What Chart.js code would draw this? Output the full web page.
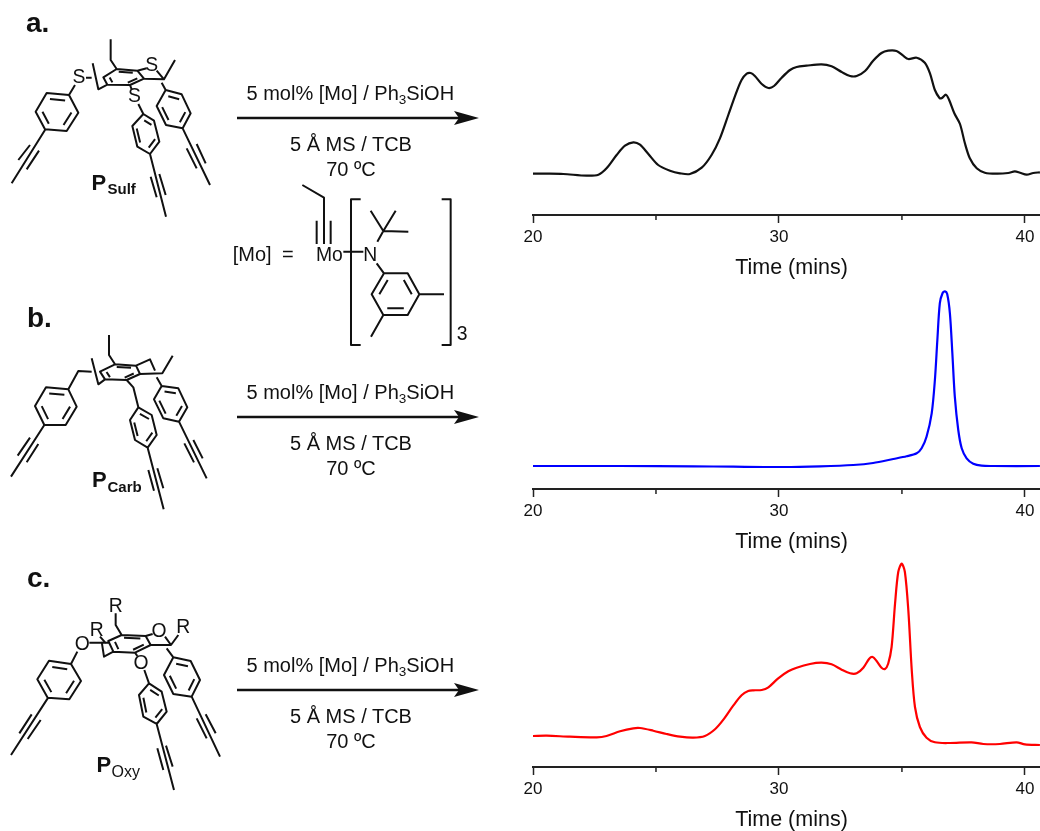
<!DOCTYPE html>
<html>
<head>
<meta charset="utf-8">
<title>GPC traces</title>
<script src="https://cdn.jsdelivr.net/npm/chart.js@4"></script>
<style>
  html, body { margin: 0; padding: 0; background: #fff; }
  body { position: relative; width: 1040px; height: 831px; overflow: hidden; font-family: "Liberation Sans", Arial, sans-serif; }
  canvas { position: absolute; left: 500px; }
  svg { position: absolute; left: 0; top: 0; }
  svg text { font-family: "Liberation Sans", Arial, sans-serif; fill: #111; }
</style>
</head>
<body>
<canvas id="chartSulf" width="550" height="239" style="top:40px"></canvas>
<canvas id="chartCarb" width="550" height="268" style="top:285px"></canvas>
<canvas id="chartOxy" width="550" height="275" style="top:556px"></canvas>
<svg id="scheme" width="1040" height="831" xmlns="http://www.w3.org/2000/svg"></svg>

<script>
// === 1. Data ===
const tickValues = [20, 25, 30, 35, 40];
const tickLabels = ["20", "", "30", "", "40"];
const axisTitle = "Time (mins)";

const sulfTimes = [20.00, 20.56, 21.23, 22.18, 22.66, 22.99, 23.40, 23.74, 24.08, 24.35, 24.69, 25.09, 25.57, 25.98, 26.38, 26.86, 27.26, 27.60, 27.94, 28.28, 28.48, 28.69, 28.85, 29.02, 29.30, 29.57, 29.80, 30.11, 30.45, 30.72, 31.12, 31.73, 32.14, 32.55, 32.89, 33.16, 33.50, 33.83, 34.17, 34.44, 34.78, 35.05, 35.26, 35.60, 35.93, 36.14, 36.34, 36.52, 36.61, 36.79, 36.92, 37.13, 37.36, 37.56, 37.76, 38.04, 38.37, 38.85, 39.32, 39.59, 39.80, 40.07, 40.34, 40.61];
const sulfSignal = [41.3, 41.3, 41, 39.3, 40.3, 46.7, 60, 69.3, 72.7, 70.3, 61, 50, 44.3, 41.7, 41, 47.3, 60, 76.7, 100, 123.3, 135, 141.3, 142, 139, 131, 127, 129, 137.3, 145, 148, 149.3, 150.7, 148.7, 143, 139, 139, 144, 154.3, 162, 164.3, 164, 159.3, 156, 157.3, 152.3, 141.7, 125, 117.3, 116.7, 120.3, 115, 101.7, 91, 71.7, 56.7, 46.7, 42.3, 41.3, 42, 43.7, 42.3, 40.3, 42, 42.7];

const carbTimes = [20.00, 23.54, 26.52, 28.14, 30.18, 31.67, 33.02, 33.83, 34.65, 35.19, 35.60, 35.80, 36.00, 36.21, 36.34, 36.44, 36.54, 36.65, 36.75, 36.84, 36.95, 37.05, 37.15, 37.29, 37.43, 37.63, 37.90, 38.24, 38.71, 40.61];
const carbSignal = [23, 23, 22.7, 22.3, 22, 22.7, 24, 26, 30, 32.7, 35.7, 40.7, 52.3, 75.7, 109, 149, 185.7, 195.7, 197.7, 195, 175.7, 135.7, 92.3, 59, 40.7, 30.7, 25.3, 23.3, 23, 23];

const oxyTimes = [20.00, 20.56, 21.50, 22.59, 22.99, 23.54, 24.08, 24.35, 24.89, 25.43, 25.98, 26.52, 26.99, 27.40, 27.74, 28.14, 28.48, 28.75, 28.96, 29.30, 29.57, 29.97, 30.38, 30.72, 31.26, 31.73, 32.14, 32.55, 32.89, 33.16, 33.43, 33.67, 33.81, 33.97, 34.17, 34.31, 34.44, 34.58, 34.72, 34.85, 34.99, 35.12, 35.26, 35.40, 35.53, 35.73, 36.00, 36.34, 36.95, 37.83, 38.31, 38.98, 39.66, 40.00, 40.61];
const oxySignal = [31, 31.3, 30.3, 29.7, 31, 35.7, 38.7, 39, 36.3, 33, 30.3, 29.3, 31, 37.7, 47.3, 61.3, 71.7, 76, 76.7, 77, 79.7, 88.7, 95.7, 99.3, 103, 104.3, 102.7, 97.3, 93.7, 93.7, 99.3, 108.3, 110, 106, 99.3, 98, 103.3, 120, 163.3, 195, 203.3, 195, 156.7, 96.7, 60, 40, 29.3, 24.7, 24, 24.7, 23, 23, 24.7, 22.7, 22];

// === 2. Chart.js traces ===

// Minor ticks are shorter than the major ones, grid.tickLength is not per tick
const minorTicks = {
  id: "minorTicks",
  afterDraw(chart) {
    const x = chart.scales.x;
    const ctx = chart.ctx;
    ctx.save();
    ctx.strokeStyle = "#222";
    ctx.lineWidth = 1.5;
    tickValues.forEach((v, i) => {
      if (tickLabels[i]) return;
      const px = x.getPixelForValue(v);
      ctx.beginPath();
      ctx.moveTo(px, x.top);
      ctx.lineTo(px, x.top + 5);
      ctx.stroke();
    });
    ctx.restore();
  },
};

function drawTrace(id, times, signal, color, yMax) {
  new Chart(document.getElementById(id), {
    type: "line",
    data: {
      datasets: [
        {
          data: times.map((t, i) => ({ x: t, y: signal[i] })),
          borderColor: color,
          borderWidth: 2.2,
          pointRadius: 0,
          tension: 0.3,
        },
      ],
    },
    options: {
      responsive: false,
      animation: false,
      layout: { padding: { left: 33, right: 0, top: 0, bottom: 0 } },
      plugins: { legend: { display: false }, tooltip: { enabled: false } },
      scales: {
        x: {
          type: "linear",
          min: 20,
          max: 41.02,
          afterFit: (s) => { s.height = 64; },
          border: { display: true, color: "#222", width: 2 },
          grid: {
            drawOnChartArea: false,
            tickLength: 8,
            tickWidth: 1.5,
            tickColor: (c) => (c.tick && tickLabels[tickValues.indexOf(c.tick.value)] ? "#222" : "rgba(0,0,0,0)"),
          },
          ticks: {
            stepSize: 5,
            includeBounds: false,
            autoSkip: false,
            maxRotation: 0,
            padding: 4,
            color: "#111",
            font: { family: "Liberation Sans", size: 17 },
            callback: (v) => tickLabels[tickValues.indexOf(v)] ?? "",
          },
          title: {
            display: true,
            text: axisTitle,
            color: "#111",
            padding: 0,
            font: { family: "Liberation Sans", size: 21.5, lineHeight: 1 },
          },
        },
        y: { display: false, min: 0, max: yMax },
      },
    },
    plugins: [minorTicks],
  });
}

drawTrace("chartSulf", sulfTimes, sulfSignal, "#111111", 175);
drawTrace("chartCarb", carbTimes, carbSignal, "#0000ff", 204);
drawTrace("chartOxy", oxyTimes, oxySignal, "#ff0000", 211);

// === 3. Scheme on the left (structures, arrows, conditions) ===

const svg = document.getElementById("scheme");
const NS = "http://www.w3.org/2000/svg";

function add(parent, tag, attrs, text) {
  const el = document.createElementNS(NS, tag);
  for (const k in attrs) el.setAttribute(k, attrs[k]);
  if (text != null) el.textContent = text;
  parent.appendChild(el);
  return el;
}

function label(x, y, text, size, extra = {}) {
  add(svg, "text", { x, y, "font-size": size, ...extra }, text);
}

function polyPath(pts) {
  return "M" + pts.map((p) => p.join(" ")).join("L");
}

// hexagon with three inner double bond lines on edges 0, 2, 4
function ringPath(r) {
  const cx = r.reduce((s, p) => s + p[0], 0) / 6;
  const cy = r.reduce((s, p) => s + p[1], 0) / 6;
  let d = polyPath(r) + "Z";
  [0, 2, 4].forEach((i) => {
    const a = r[i];
    const b = r[(i + 1) % 6];
    const ia = [a[0] + (cx - a[0]) * 0.32, a[1] + (cy - a[1]) * 0.32];
    const ib = [b[0] + (cx - b[0]) * 0.32, b[1] + (cy - b[1]) * 0.32];
    d += polyPath([ia, ib]);
  });
  return d;
}

// coordinates are in 3x pixels, same as the crops they were measured on
function molecule(dx, dy, lines, rings, texts) {
  const g = add(svg, "g", { transform: `translate(${dx},${dy}) scale(0.33333)` });
  const d = lines.map(polyPath).join("") + rings.map(ringPath).join("");
  add(g, "path", { d, fill: "none", stroke: "#111", "stroke-width": 6, "stroke-linejoin": "round" });
  texts.forEach((t) => add(g, "text", { x: t[0], y: t[1], "font-size": t[3] || 58, "text-anchor": t[4] || "middle" }, t[2]));
}

molecule(0, 0,
  [
    [[135, 390], [35, 550]], [[55, 480], [90, 435]], [[80, 508], [117, 452]],
    [[207, 285], [225, 255]], [[258, 233], [275, 233]],
    [[350, 207], [332, 180], [332, 118]],
    [[278, 190], [295, 268], [322, 254]],
    [[432, 236], [492, 238], [525, 180]], [[412, 212], [440, 205]], [[470, 212], [492, 238]], [[485, 248], [497, 270]],
    [[548, 385], [630, 555]], [[560, 445], [590, 505]], [[590, 432], [617, 490]],
    [[390, 255], [395, 268]], [[415, 312], [430, 342]],
    [[450, 462], [498, 650]], [[452, 530], [470, 592]], [[478, 522], [497, 585]],
  ],
  [
    [[207, 285], [140, 279], [107, 335], [135, 388], [200, 393], [235, 338]],
    [[350, 207], [412, 212], [432, 236], [390, 255], [322, 254], [310, 232]],
    [[497, 270], [545, 283], [572, 340], [548, 385], [498, 375], [470, 318]],
    [[430, 342], [462, 362], [478, 425], [450, 462], [412, 440], [397, 378]],
  ],
  [[237, 250, "S"], [455, 213, "S"], [403, 305, "S"]]
);

molecule(0, 300,
  [
    [[133, 375], [33, 530]], [[53, 467], [90, 413]], [[80, 487], [115, 432]],
    [[205, 268], [235, 213], [275, 215]],
    [[345, 193], [327, 165], [327, 105]],
    [[275, 175], [295, 253], [315, 238]],
    [[408, 197], [450, 178], [465, 212]],
    [[420, 222], [487, 220], [518, 167]], [[470, 232], [485, 258]],
    [[537, 365], [620, 535]], [[553, 430], [582, 487]], [[580, 420], [608, 475]],
    [[380, 240], [400, 262], [415, 322]],
    [[443, 443], [491, 628]], [[445, 510], [462, 572]], [[472, 505], [490, 565]],
  ],
  [
    [[205, 268], [138, 262], [105, 318], [133, 375], [197, 375], [230, 320]],
    [[345, 193], [408, 197], [420, 222], [380, 240], [315, 238], [300, 215]],
    [[485, 258], [535, 265], [562, 322], [537, 365], [490, 355], [462, 298]],
    [[415, 322], [455, 345], [470, 405], [443, 443], [405, 420], [390, 360]],
  ],
  []
);

molecule(0, 570,
  [
    [[143, 385], [33, 555]], [[58, 490], [95, 433]], [[83, 507], [122, 450]],
    [[213, 282], [232, 245]], [[268, 218], [325, 218]],
    [[365, 195], [347, 165], [347, 130]],
    [[300, 200], [318, 220]], [[305, 215], [312, 260], [340, 245]],
    [[437, 198], [458, 192]], [[495, 200], [513, 225]],
    [[452, 225], [513, 225], [535, 195]], [[500, 235], [520, 262]],
    [[575, 380], [660, 560]], [[590, 445], [620, 505]], [[617, 433], [647, 490]],
    [[405, 248], [412, 258]], [[433, 300], [447, 340]],
    [[470, 462], [522, 660]], [[472, 535], [490, 600]], [[498, 527], [518, 590]],
  ],
  [
    [[213, 282], [147, 272], [112, 328], [143, 383], [208, 388], [243, 333]],
    [[365, 195], [437, 198], [452, 225], [405, 248], [340, 245], [325, 213]],
    [[520, 262], [572, 273], [600, 330], [575, 380], [520, 372], [492, 315]],
    [[447, 340], [485, 365], [500, 425], [470, 462], [430, 440], [417, 375]],
  ],
  [[247, 240, "O"], [477, 202, "O"], [423, 297, "O"], [347, 127, "R"], [290, 199, "R"], [550, 189, "R"]]
);

// [Mo] complex
molecule(220, 170,
  [
    [[247, 45], [312, 83], [312, 152]],
    [[290, 152], [290, 222]], [[312, 152], [312, 222]], [[332, 152], [332, 222]],
    [[370, 245], [430, 245]],
    [[472, 215], [490, 183]], [[490, 183], [452, 122]], [[490, 183], [527, 122]], [[490, 183], [565, 185]],
    [[470, 280], [492, 310]],
    [[598, 373], [672, 373]], [[490, 435], [453, 500]],
    [[422, 88], [393, 88], [393, 525], [422, 525]],
    [[665, 88], [692, 88], [692, 525], [665, 525]],
  ],
  [
    [[563, 310], [598, 373], [563, 435], [490, 435], [455, 373], [492, 310]],
  ],
  [[328, 272, "Mo"], [451, 272, "N"], [710, 510, "3", 58, "start"]]
);
label(232.7, 260.7, "[Mo]", 20);
label(282, 260.7, "=", 20);

// panel letters and polymer names
label(26, 32, "a.", 28, { "font-weight": "bold" });
label(27, 327, "b.", 28, { "font-weight": "bold" });
label(27, 587, "c.", 28, { "font-weight": "bold" });

label(91.5, 189.5, "P", 22, { "font-weight": "bold" });
label(107.5, 194, "Sulf", 15, { "font-weight": "bold" });
label(92, 486.5, "P", 22, { "font-weight": "bold" });
label(107.5, 491.5, "Carb", 15, { "font-weight": "bold" });
label(96.5, 771.5, "P", 22, { "font-weight": "bold" });
label(111.5, 777, "Oxy", 16);

// reaction arrows with conditions
function reaction(y) {
  add(svg, "line", { x1: 237, y1: y, x2: 462, y2: y, stroke: "#111", "stroke-width": 2.3 });
  add(svg, "polygon", { points: `479,${y} 454,${y - 7} 459,${y} 454,${y + 7}`, fill: "#111" });
  const top = add(svg, "text", { x: 246.5, y: y - 18, "font-size": 20 });
  top.append("5 mol% [Mo] / Ph");
  add(top, "tspan", { "font-size": 13.5, dy: 4 }, "3");
  add(top, "tspan", { dy: -4 }, "SiOH");
  label(351, y + 33, "5 Å MS / TCB", 20, { "text-anchor": "middle" });
  label(351, y + 58, "70 ºC", 20, { "text-anchor": "middle" });
}

reaction(118);
reaction(417);
reaction(690);
</script>
</body>
</html>
